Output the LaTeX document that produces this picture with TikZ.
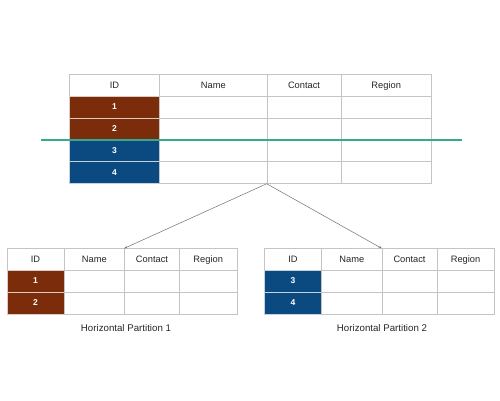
\documentclass[tikz,border=0pt]{standalone}
\usepackage{fontspec}
\setmainfont{Liberation Sans}
\usetikzlibrary{arrows.meta}
\definecolor{brownc}{HTML}{7B2D0B}
\definecolor{bluec}{HTML}{0B4A80}
\definecolor{greenc}{HTML}{3AA88A}
\definecolor{gridc}{HTML}{C4C4C4}
\definecolor{arrc}{HTML}{707070}
\tikzset{
  cell/.style={draw=gridc, line width=0.7pt, rectangle, inner sep=0pt, anchor=north west, fill=white, text height=6.8pt, text depth=1.8pt},
  hdr/.style={cell, font=\fontsize{9.3}{11}\selectfont, text=black!85},
  idb/.style={cell, fill=brownc, draw=white!75!brownc, font=\bfseries\fontsize{8.5}{10}\selectfont, text=white},
  idu/.style={cell, fill=bluec, draw=white!75!bluec, font=\bfseries\fontsize{8.5}{10}\selectfont, text=white},
  captxt/.style={font=\fontsize{9.7}{11}\selectfont, text=black!85},
  conn/.style={draw=arrc, line width=0.5pt, -{Stealth[length=3pt,width=2.4pt]}},
  cutline/.style={draw=greenc, line width=1.3pt}
}
\begin{document}
\begin{tikzpicture}[x=1pt,y=-1pt]
\useasboundingbox (0,0) rectangle (500,400);
% ---- top table
\def\rh{21.75}
\node[hdr, minimum width=90.3pt, minimum height=\rh pt] (t-id-0) at (69,74.3) {ID};
\node[hdr, minimum width=107.4pt, minimum height=\rh pt] (t-n-0) at (159.3,74.3) {Name};
\node[hdr, minimum width=74pt, minimum height=\rh pt] (t-c-0) at (266.7,74.3) {Contact};
\node[hdr, minimum width=90.3pt, minimum height=\rh pt] (t-r-0) at (340.7,74.3) {Region};
\foreach \i/\st in {1/idb,2/idb,3/idu,4/idu}{
  \pgfmathsetmacro{\yy}{74.3+\i*\rh}
  \node[\st, minimum width=90.3pt, minimum height=\rh pt] (t-id-\i) at (69,\yy) {\i};
  \node[cell, minimum width=107.4pt, minimum height=\rh pt] (t-n-\i) at (159.3,\yy) {};
  \node[cell, minimum width=74pt, minimum height=\rh pt] (t-c-\i) at (266.7,\yy) {};
  \node[cell, minimum width=90.3pt, minimum height=\rh pt] (t-r-\i) at (340.7,\yy) {};
}
% ---- left table
\def\rl{21.8}
\node[hdr, minimum width=57pt, minimum height=\rl pt] (l-id-0) at (6.7,248.3) {ID};
\node[hdr, minimum width=60.6pt, minimum height=\rl pt] (l-n-0) at (63.7,248.3) {Name};
\node[hdr, minimum width=54.7pt, minimum height=\rl pt] (l-c-0) at (124.3,248.3) {Contact};
\node[hdr, minimum width=57.7pt, minimum height=\rl pt] (l-r-0) at (179,248.3) {Region};
\foreach \i in {1,2}{
  \pgfmathsetmacro{\yy}{248.3+\i*\rl}
  \node[idb, minimum width=57pt, minimum height=\rl pt] (l-id-\i) at (6.7,\yy) {\i};
  \node[cell, minimum width=60.6pt, minimum height=\rl pt] (l-n-\i) at (63.7,\yy) {};
  \node[cell, minimum width=54.7pt, minimum height=\rl pt] (l-c-\i) at (124.3,\yy) {};
  \node[cell, minimum width=57.7pt, minimum height=\rl pt] (l-r-\i) at (179,\yy) {};
}
% ---- right table
\node[hdr, minimum width=57.3pt, minimum height=\rl pt] (r-id-0) at (264,248.3) {ID};
\node[hdr, minimum width=60.4pt, minimum height=\rl pt] (r-n-0) at (321.3,248.3) {Name};
\node[hdr, minimum width=55pt, minimum height=\rl pt] (r-c-0) at (381.7,248.3) {Contact};
\node[hdr, minimum width=57pt, minimum height=\rl pt] (r-r-0) at (436.7,248.3) {Region};
\foreach \i/\n in {1/3,2/4}{
  \pgfmathsetmacro{\yy}{248.3+\i*\rl}
  \node[idu, minimum width=57.3pt, minimum height=\rl pt] (r-id-\i) at (264,\yy) {\n};
  \node[cell, minimum width=60.4pt, minimum height=\rl pt] (r-n-\i) at (321.3,\yy) {};
  \node[cell, minimum width=55pt, minimum height=\rl pt] (r-c-\i) at (381.7,\yy) {};
  \node[cell, minimum width=57pt, minimum height=\rl pt] (r-r-\i) at (436.7,\yy) {};
}
% captions
\node[captxt] (lcap) at (126,328.5) {Horizontal Partition 1};
\node[captxt] (rcap) at (382,328.5) {Horizontal Partition 2};
% cut line
\coordinate (cutA) at (41,140);
\coordinate (cutB) at (462,140);
\draw[cutline] (cutA) -- (cutB);
% connectors
\draw[conn] (t-c-4.south west) -- (l-c-0.north west);
\draw[conn] (t-c-4.south west) -- (r-c-0.north west);
\end{tikzpicture}
\end{document}
